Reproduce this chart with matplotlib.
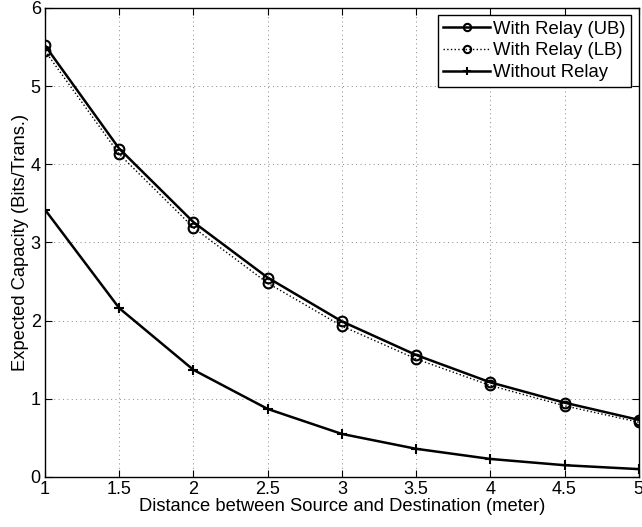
import matplotlib
matplotlib.use("Agg")
import matplotlib.pyplot as plt

distance = [1, 1.5, 2, 2.5, 3, 3.5, 4, 4.5, 5]
relay_ub = [5.52, 4.20, 3.26, 2.55, 1.99, 1.56, 1.21, 0.95, 0.73]
relay_lb = [5.45, 4.13, 3.19, 2.48, 1.93, 1.51, 1.17, 0.91, 0.70]
no_relay = [3.42, 2.16, 1.37, 0.87, 0.55, 0.36, 0.23, 0.15, 0.10]

xticks = [1, 1.5, 2, 2.5, 3, 3.5, 4, 4.5, 5]
xticklabels = ["1", "1.5", "2", "2.5", "3", "3.5", "4", "4.5", "5"]
yticks = [0, 1, 2, 3, 4, 5, 6]

plt.rcParams['font.family'] = ['Liberation Sans', 'DejaVu Sans']

fig = plt.figure(figsize=(6.42, 5.27), dpi=100)
ax = fig.add_axes([0.070, 0.095, 0.925, 0.890])

ax.plot(distance, relay_ub, '-', color='black', lw=1.8, marker='o', ms=7,
        mfc='none', mec='black', mew=1.5, label='With Relay (UB)')
ax.plot(distance, relay_lb, ':', color='black', lw=1.0, marker='o', ms=7,
        mfc='none', mec='black', mew=1.5, label='With Relay (LB)')
ax.plot(distance, no_relay, '-', color='black', lw=1.8, marker='+', ms=7,
        mew=1.5, label='Without Relay')

ax.set_xlim(1, 5)
ax.set_ylim(0, 6)
ax.set_xticks(xticks)
ax.set_xticklabels(xticklabels)
ax.set_yticks(yticks)
ax.tick_params(direction='in', length=5, width=0.8, top=True, right=True, labelsize=13, pad=3)
ax.grid(True, linestyle=(0, (1, 3.5)), color='#888888', lw=0.7)
for s in ax.spines.values():
    s.set_linewidth(1.0)

ax.set_xlabel('Distance between Source and Destination (meter)', fontsize=13.2, labelpad=0)
ax.set_ylabel('Expected Capacity (Bits/Trans.)', fontsize=13.2, labelpad=1)

leg = ax.legend(loc='upper right', fontsize=13.3, frameon=True, fancybox=False,
                edgecolor='black', framealpha=1, borderpad=0.3, labelspacing=0.25,
                handlelength=2.5, handletextpad=0.2, borderaxespad=0.4, markerscale=0.75)
leg.get_frame().set_linewidth(1.0)

fig.savefig('out.png', dpi=100)
